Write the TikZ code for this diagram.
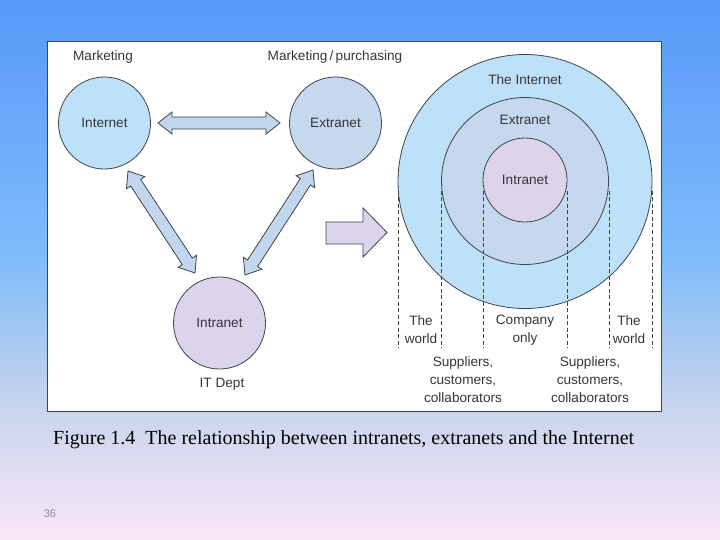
\documentclass[tikz,border=0pt]{standalone}
\usepackage{fontspec}
\setmainfont{Liberation Serif}
\newfontfamily\diafont{Liberation Sans}
\usetikzlibrary{calc}
\definecolor{bgA}{RGB}{250,230,248}
\definecolor{bgB}{RGB}{205,215,238}
\definecolor{bgC}{RGB}{172,202,240}
\definecolor{bgD}{RGB}{128,188,250}
\definecolor{bgE}{RGB}{88,152,248}
\definecolor{inetfill}{RGB}{190,225,250}
\definecolor{extfill}{RGB}{197,216,238}
\definecolor{intfill}{RGB}{220,212,234}
\definecolor{arrowfill}{RGB}{194,214,238}
\definecolor{outline}{RGB}{60,68,78}
\definecolor{txt}{RGB}{55,55,55}
\definecolor{pagenum}{RGB}{140,140,160}
\pgfdeclareverticalshading{bgshade}{100bp}{color(0bp)=(bgA); color(25bp)=(bgA); color(36bp)=(bgB); color(42.5bp)=(bgC); color(51bp)=(bgD); color(75bp)=(bgE); color(100bp)=(bgE)}
\newcommand\dblarrow[2]{%
  \draw[blockarrow] (#1)
    -- ($(#1)!14pt!(#2)!11pt!90:(#2)$)
    -- ($(#1)!14pt!(#2)!6pt!90:(#2)$)
    -- ($(#2)!14pt!(#1)!6pt!-90:(#1)$)
    -- ($(#2)!14pt!(#1)!11pt!-90:(#1)$)
    -- (#2)
    -- ($(#2)!14pt!(#1)!11pt!90:(#1)$)
    -- ($(#2)!14pt!(#1)!6pt!90:(#1)$)
    -- ($(#1)!14pt!(#2)!6pt!-90:(#2)$)
    -- ($(#1)!14pt!(#2)!11pt!-90:(#2)$)
    -- cycle;}
\begin{document}
\begin{tikzpicture}[x=1pt,y=-1pt,
  circ/.style={circle, draw=outline, line width=0.8pt, inner sep=0pt, outer sep=0pt, text=txt, font=\diafont\fontsize{13.6}{18}\selectfont},
  lab/.style={text=txt, inner sep=0pt, align=center, font=\diafont\fontsize{13.6}{18}\selectfont},
  blockarrow/.style={draw=outline, fill=arrowfill, line width=0.8pt, line join=miter},
  dashline/.style={draw=outline, line width=0.7pt, dash pattern=on 4pt off 2.5pt}]
\useasboundingbox (0,0) rectangle (720,540);
\shade[shading=bgshade] (0,0) rectangle (720,540);
\draw[fill=white, draw=outline, line width=1pt] (47,42) rectangle (661,411);

% left part
\node[circ, fill=inetfill, minimum size=92pt] (inet) at (104.5,123) {Internet};
\node[circ, fill=extfill, minimum size=92pt] (ext) at (335.5,123) {Extranet};
\node[circ, fill=intfill, minimum size=92pt] (intr) at (219.5,323) {Intranet};
\node[lab] (lmkt) at (103,57) {Marketing};
\node[lab] (lmp) at (335,57) {Marketing\,/\,purchasing};
\node[lab] (lit) at (222,384) {IT Dept};

\coordinate (h1) at (158,123);
\coordinate (h2) at (280,123);
\coordinate (d1) at (128,171);
\coordinate (d2) at (195,273);
\coordinate (e1) at (313,170);
\coordinate (e2) at (245,275);
\dblarrow{h1}{h2}
\dblarrow{d1}{d2}
\dblarrow{e1}{e2}

% big arrow
\draw[blockarrow, fill=intfill] (326,222) -- (363,222) -- (363,208) -- (387,232.5) -- (363,257) -- (363,244) -- (326,244) -- cycle;

% right part
\node[circ, fill=inetfill, minimum size=254pt] (rinet) at (525,181.5) {};
\node[circ, fill=extfill, minimum size=167pt] (rext) at (525,181) {};
\node[circ, fill=intfill, minimum size=84pt] (rint) at (525,180) {Intranet};
\node[lab] (tinet) at (525,80) {The Internet};
\node[lab] (text) at (525,120) {Extranet};

\foreach \x in {398,441,483,567,609,652}
  \draw[dashline] (\x,191) -- (\x,348);

\node[lab] (w1) at (421,330) {The\\world};
\node[lab] (co) at (525,330) {Company\\only};
\node[lab] (w2) at (629,330) {The\\world};
\node[lab] (s1) at (463,379.5) {Suppliers,\\customers,\\collaborators};
\node[lab] (s2) at (590,379.5) {Suppliers,\\customers,\\collaborators};

% caption
\node[anchor=west, inner sep=0pt, font=\fontsize{20}{22}\selectfont] (cap) at (53,440) {Figure 1.4\ \ The relationship between intranets, extranets and the Internet};
\node[text=pagenum, inner sep=0pt, font=\diafont\fontsize{11}{13}\selectfont] (pn) at (50,514) {36};
\end{tikzpicture}
\end{document}
